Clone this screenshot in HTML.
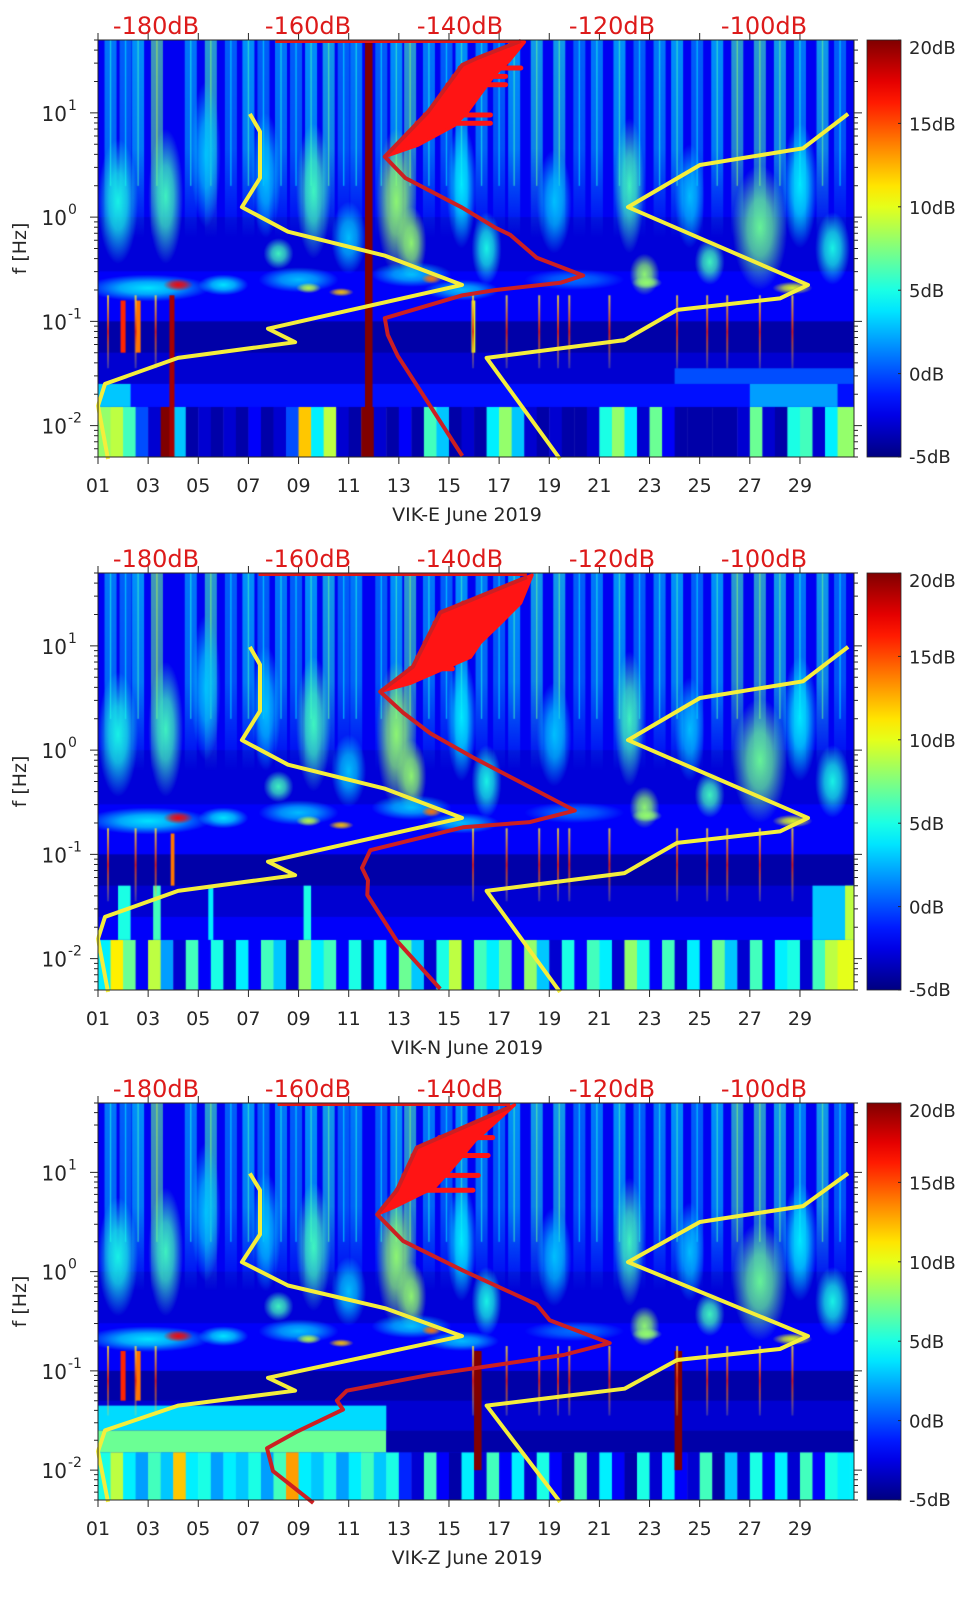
<!DOCTYPE html>
<html><head><meta charset="utf-8">
<style>
html,body{margin:0;padding:0;background:#fff}
body{width:962px;height:1599px;position:relative;overflow:hidden;font-family:"DejaVu Sans","Liberation Sans",sans-serif}
canvas{position:absolute}
svg{position:absolute;left:0;top:0}
</style></head>
<body>
<svg id="ov" width="962" height="1599" viewBox="0 0 962 1599"></svg>
<script>
// ---------- data ----------
const dayTickVals=[1,3,5,7,9,11,13,15,17,19,21,23,25,27,29];
const dayTickLabels=['01','03','05','07','09','11','13','15','17','19','21','23','25','27','29'];
const freqTickExp=[1,0,-1,-2];
const cbTickVals=[-5,0,5,10,15,20];
const cbTickLabels=['-5dB','0dB','5dB','10dB','15dB','20dB'];
const dbTickVals=[-180,-160,-140,-120,-100];
const dbTickLabels=['-180dB','-160dB','-140dB','-120dB','-100dB'];
const panelNames=['VIK-E June 2019','VIK-N June 2019','VIK-Z June 2019'];

// yellow noise model (day, log10 f)
const yellowLeftDay=[7.06,7.46,7.46,6.74,8.58,12.45,15.52,7.78,8.86,4.19,1.28,1.0,1.40];
const yellowLeftLogF=[0.99,0.82,0.375,0.096,-0.14,-0.37,-0.65,-1.07,-1.20,-1.35,-1.60,-1.81,-2.32];
const yellowRightDay=[30.92,29.12,25.01,22.14,29.32,28.2,24.1,22.0,16.5,19.43];
const yellowRightLogF=[0.99,0.66,0.50,0.096,-0.65,-0.78,-0.89,-1.18,-1.35,-2.32];

// red curves (dB, log10 f)
const red1Db=[-132,-137.6,-139.7,-144.2,-149.9,-147.2,-139.7,-135.4,-133.4,-129.9,-123.8,-126.8,-135.4,-139.7,-149.9,-149.5,-148.2,-144.2,-139.7];
const red1LogF=[1.69,1.53,1.46,1.01,0.58,0.375,0.09,-0.10,-0.17,-0.39,-0.56,-0.63,-0.70,-0.75,-0.97,-1.13,-1.33,-1.78,-2.29];
const red1OuterDb=[-131.5,-133.5,-135.4,-139.0,-140.7,-145.5,-149.9];
const red1OuterLogF=[1.68,1.50,1.37,1.01,0.88,0.69,0.58];
const red2Db=[-131.2,-142.6,-146.2,-150.5,-147.5,-143.9,-138.3,-132.5,-124.9,-130.8,-139.6,-151.8,-152.9,-152.1,-152.2,-148.3,-142.6];
const red2LogF=[1.66,1.32,0.80,0.56,0.36,0.16,-0.07,-0.29,-0.58,-0.69,-0.74,-0.96,-1.13,-1.25,-1.39,-1.83,-2.29];
const red2OuterDb=[-130.5,-132.0,-134.6,-137.3,-138.6,-146.5,-150.5];
const red2OuterLogF=[1.68,1.41,1.22,1.03,0.89,0.64,0.56];
const red3Db=[-133.4,-145.7,-148.3,-150.9,-147.5,-139.6,-129.9,-128.2,-120.3,-126.4,-135.1,-144.0,-154.9,-156.2,-155.4,-161.4,-165.4,-164.6,-159.3];
const red3LogF=[1.66,1.25,0.82,0.576,0.31,0.01,-0.33,-0.49,-0.72,-0.84,-0.94,-1.04,-1.20,-1.30,-1.39,-1.61,-1.78,-2.01,-2.33];
const red3OuterDb=[-132.8,-138.0,-140.6,-143.3,-148.6,-150.9];
const red3OuterLogF=[1.68,1.32,1.08,0.85,0.65,0.576];
const redSpikes1LogF=[1.43,1.35,1.27,0.98,0.90];
const redSpikes1Db=[-132,-134,-134,-136,-136];
const redSpikes2LogF=[1.41,1.22,1.03,0.89,0.78];
const redSpikes2Db=[-132.5,-135.1,-137.8,-139.1,-141];
const redSpikes3LogF=[1.35,1.17,0.97,0.82];
const redSpikes3Db=[-135.7,-136.3,-137.6,-138.3];
const redTopStartDb=[-164.3,-166.5,-164];

// spectrogram: background rows [lfTop, lfBot, dB]
const bgRowTop=[1.7,0.0,-0.52,-0.82,-1.0,-1.3,-1.6];
const bgRowBot=[0.0,-0.52,-0.82,-1.0,-1.3,-1.6,-1.82];
const bgRowDb=[-2.2,-2.8,-2.0,-2.0,-4,-3,-1.5];
// blobs
const blobDay=[1.8,3.7,5.3,7.7,9.6,11.0,12.9,13.5,15.5,16.5,19.2,22.2,24.6,25.4,22.8,27.4,29.0,30.3,3,9,13.5,20,6,15.5,4.2,9.4,10.7,14.3,28.7,22.9,8.2];
const blobLogF=[0.15,0.2,0.6,0.4,0.25,-0.2,0.15,-0.25,0.3,-0.3,0.15,0.3,0.2,-0.43,-0.55,-0.1,0.3,-0.3,-0.68,-0.6,-0.55,-0.6,-0.65,-0.7,-0.65,-0.68,-0.72,-0.59,-0.68,-0.63,-0.35];
const blobDb=[5,6,3,3,6,3,8,8,4,5,3,6,3,6,8,7,4,5,4,3,3,1,4,3,17,9,12,14,10,8,6];
const blobRxDays=[0.8,0.7,0.6,0.6,0.7,0.7,0.8,0.6,0.6,0.6,0.7,0.6,0.6,0.6,0.6,1.1,0.7,0.7,2.5,1.6,1.6,2.0,1.0,1.5,0.6,0.5,0.5,0.4,0.8,0.6,0.6];
const blobRyDec=[0.6,0.65,0.7,0.6,0.65,0.35,0.7,0.35,0.6,0.35,0.5,0.65,0.5,0.22,0.2,0.6,0.6,0.35,0.13,0.12,0.12,0.1,0.1,0.1,0.06,0.05,0.04,0.05,0.06,0.06,0.15];
// high-frequency streaks
const streakDay=[1.5,2.1,2.6,3.35,4.7,5.5,6.3,7.0,7.6,8.3,8.9,9.5,10.2,10.8,11.3,12.3,12.9,13.45,14.2,14.9,15.5,16.3,17.0,17.6,18.5,19.4,20.2,20.9,21.8,22.6,23.4,24.1,24.9,25.7,26.5,27.4,28.2,29.0,29.9,30.6];
const streakDb=[3,2,4,7,3,6,2,4,2,3,2,4,5,2,3,2,4,6,3,2,4,3,2,4,5,5,2,3,4,2,3,4,2,4,6,6,5,3,5,2];
// low-frequency blocks per panel [d0,d1,lfTop,lfBot,dB]
const blocks1D0=[1,1,24,27,11.65,3.85,1.9,2.5,15.9];
const blocks1D1=[31.2,2.3,31.2,30.5,11.95,4.05,2.1,2.7,16.05];
const blocks1Top=[-1.6,-1.6,-1.45,-1.6,1.7,-0.75,-0.8,-0.8,-0.8];
const blocks1Bot=[-1.82,-1.82,-1.6,-1.82,-2.31,-2.31,-1.3,-1.3,-1.3];
const blocks1Db=[-1.5,3,0,2,20,19,16,14,10];
const blocks2D0=[1,29.5,30.8,1.8,3.2,5.4,9.2,3.9];
const blocks2D1=[31.2,31.2,31.2,2.3,3.5,5.6,9.5,4.05];
const blocks2Top=[-1.6,-1.3,-1.3,-1.3,-1.3,-1.3,-1.3,-0.8];
const blocks2Bot=[-1.82,-1.82,-1.82,-1.82,-1.82,-1.82,-1.82,-1.3];
const blocks2Db=[-2,3,9,5,6,4,5,14];
const blocks3D0=[1,1,12.5,16.0,24.0,1.9,2.5];
const blocks3D1=[12.5,12.5,31.2,16.3,24.3,2.1,2.7];
const blocks3Top=[-1.35,-1.6,-1.6,-0.8,-0.8,-0.8,-0.8];
const blocks3Bot=[-1.6,-1.82,-1.82,-2.0,-2.0,-1.3,-1.3];
const blocks3Db=[3.5,7,-4,20,20,16,14];
// bottom band (half-day levels, dB)
const bottom1=[8,9,6,0,-3,20,3,-4,-3,-4,-3,-4,-2,-4,-3,0,12,4,9,-3,-4,20,-3,-4,-2,-4,6,3,-4,-3,-4,4,8,3,-3,-4,-3,-4,-4,-3,5,8,4,-3,7,-2,-4,-4,-4,-4,-4,-3,7,-3,-4,5,6,-3,4,8,8];
const bottom2=[4,11,7,-2,9,2,-3,6,-2,5,-3,4,-2,6,3,-3,8,4,6,-2,5,-3,4,-2,7,3,-3,5,9,-2,6,4,7,-2,8,3,-3,5,-2,6,4,-3,8,5,-2,6,-3,4,-2,7,3,-3,6,-2,4,5,-3,6,9,10,10];
const bottom3=[5,9,4,2,6,3,12,4,5,2,4,3,5,2,6,13,4,3,5,2,4,6,3,5,-1,-3,6,-2,-4,4,-3,6,-2,4,-3,5,-2,-4,6,-3,4,-2,-4,5,-3,4,-2,-3,6,-4,3,-3,5,-2,4,-3,6,-2,5,4,4];
// thin red spikes (low freq)
const spikeDay=[1.4,2.5,3.3,15.96,17.3,18.6,19.35,19.8,21.4,24.1,25.3,26.1,27.4,28.7];

// ---------- geometry ----------
const PANELS=[{top:40,h:417},{top:573,h:417},{top:1103,h:397}];
const X0=98,X1=854,DAYPX=25.07,LTOP=Math.log10(50),LBOT=Math.log10(0.005);
function xDay(d){return X0+(d-1)*DAYPX}
function yF(p,lf){return p.top+(LTOP-lf)/(LTOP-LBOT)*p.h}
function xDb(db){return 156+(db+180)*7.6}
function jet(v){const t=Math.max(0,Math.min(1,(v+5)/25));
 const c=x=>Math.round(255*Math.max(0,Math.min(1,1.5-Math.abs(4*t-x))));
 return [c(3),c(2),c(1)];}
function rgba(v,a){const c=jet(v);return 'rgba('+c[0]+','+c[1]+','+c[2]+','+a+')'}

const blocksD0=[blocks1D0,blocks2D0,blocks3D0],blocksD1=[blocks1D1,blocks2D1,blocks3D1],
blocksTop=[blocks1Top,blocks2Top,blocks3Top],blocksBot=[blocks1Bot,blocks2Bot,blocks3Bot],blocksDb=[blocks1Db,blocks2Db,blocks3Db];
const bottoms=[bottom1,bottom2,bottom3];

PANELS.forEach((p,pi)=>{
 const cv=document.createElement('canvas');
 
 
 cv.width=X1-X0;cv.height=p.h;cv.style.left=X0+'px';cv.style.top=p.top+'px';
 document.body.insertBefore(cv,document.getElementById('ov'));
 const g=cv.getContext('2d');
 const lx=d=>xDay(d)-X0, ly=lf=>yF(p,lf)-p.top;
 for(let i=0;i<bgRowDb.length;i++){g.fillStyle=rgba(bgRowDb[i],1);
  g.fillRect(0,ly(bgRowTop[i]),cv.width,ly(bgRowBot[i])-ly(bgRowTop[i])+1);}
 const bb=bottoms[pi];
 for(let i=0;i<bb.length;i++){g.fillStyle=rgba(bb[i],1);
  const x0=lx(1+i*0.5),x1=lx(1.5+i*0.5);
  g.fillRect(x0,ly(-1.82),x1-x0+0.5,cv.height-ly(-1.82));}
 // streaks
 for(let i=0;i<streakDay.length;i++){
  const x=lx(streakDay[i]);const gr=g.createLinearGradient(0,0,0,ly(-0.2));
  gr.addColorStop(0,rgba(streakDb[i],0.6));gr.addColorStop(0.55,rgba(streakDb[i],0.5));gr.addColorStop(1,rgba(streakDb[i],0));
  g.fillStyle=gr;g.fillRect(x-6,0,12,ly(-0.2));
  g.fillStyle=rgba(streakDb[i]+2,0.6);g.fillRect(x-0.7,0,1.4,ly(0.3));}
 // blobs
 for(let i=0;i<blobDay.length;i++){
  g.save();g.translate(lx(blobDay[i]),ly(blobLogF[i]));
  g.scale(blobRxDays[i]*DAYPX,blobRyDec[i]*p.h/4);
  const gr=g.createRadialGradient(0,0,0,0,0,1);
  gr.addColorStop(0,rgba(blobDb[i],0.95));gr.addColorStop(0.45,rgba(blobDb[i],0.7));gr.addColorStop(1,rgba(blobDb[i],0));
  g.fillStyle=gr;g.beginPath();g.arc(0,0,1,0,Math.PI*2);g.fill();g.restore();}
 const D0=blocksD0[pi],D1=blocksD1[pi],T=blocksTop[pi],B=blocksBot[pi],V=blocksDb[pi];
 for(let i=0;i<V.length;i++){g.fillStyle=rgba(V[i],1);
  g.fillRect(lx(D0[i]),ly(T[i]),lx(D1[i])-lx(D0[i]),ly(B[i])-ly(T[i]));}
 for(let i=0;i<spikeDay.length;i++){const x=lx(spikeDay[i]);
  const gr=g.createLinearGradient(0,ly(-0.75),0,ly(-1.45));
  gr.addColorStop(0,'rgba(255,230,60,0.8)');gr.addColorStop(0.5,'rgba(220,30,20,0.9)');gr.addColorStop(1,'rgba(255,230,60,0.2)');
  g.fillStyle=gr;g.fillRect(x-1,ly(-0.75),2,ly(-1.45)-ly(-0.75));}
});

// ---------- overlay ----------
const NS='http://www.w3.org/2000/svg';const ov=document.getElementById('ov');
function el(tag,attrs,parent){const e=document.createElementNS(NS,tag);for(const k in attrs)e.setAttribute(k,attrs[k]);(parent||ov).appendChild(e);return e}
const redDbs=[red1Db,red2Db,red3Db],redLfs=[red1LogF,red2LogF,red3LogF];
const redODbs=[red1OuterDb,red2OuterDb,red3OuterDb],redOLfs=[red1OuterLogF,red2OuterLogF,red3OuterLogF];
const spDb=[redSpikes1Db,redSpikes2Db,redSpikes3Db],spLf=[redSpikes1LogF,redSpikes2LogF,redSpikes3LogF];

PANELS.forEach((p,pi)=>{
 const G=el('g',{});
 
 
 const bot=p.top+p.h;
 [[yellowLeftDay,yellowLeftLogF],[yellowRightDay,yellowRightLogF]].forEach((c,ci)=>{
  const pts=c[0].map((d,i)=>xDay(d).toFixed(1)+','+yF(p,c[1][i]).toFixed(1)).join(' ');
  const pl=el('polyline',{points:pts,fill:'none',stroke:'#f4ee3c','stroke-width':4,'stroke-linejoin':'round'},G);
  
  
 });
 const db=redDbs[pi],lf=redLfs[pi],od=redODbs[pi],ol=redOLfs[pi];
 const minIdx=db.indexOf(Math.min(...db.slice(0,6)));
 let poly=od.map((d,i)=>xDb(d).toFixed(1)+','+yF(p,ol[i]).toFixed(1));
 for(let i=minIdx;i>=0;i--)poly.push(xDb(db[i]).toFixed(1)+','+yF(p,lf[i]).toFixed(1));
 const fz=el('polygon',{points:poly.join(' '),fill:'#ff1414',stroke:'#ff1414','stroke-width':3,'stroke-linejoin':'round'},G);
 
 
 for(let i=0;i<spDb[pi].length;i++){
  const y=yF(p,spLf[pi][i]);
  let xs=xDb(db[0]);
  for(let k=0;k<minIdx;k++){if(lf[k]>=spLf[pi][i]&&lf[k+1]<=spLf[pi][i]){const t=(lf[k]-spLf[pi][i])/(lf[k]-lf[k+1]);xs=xDb(db[k]+(db[k+1]-db[k])*t);}}
  const s=el('line',{x1:xs,y1:y,x2:xDb(spDb[pi][i]),y2:y,stroke:'#ff1414','stroke-width':5,'stroke-linecap':'round'},G);
  
  
 }
 const rl=el('polyline',{points:db.map((d,i)=>xDb(d).toFixed(1)+','+yF(p,lf[i]).toFixed(1)).join(' '),fill:'none',stroke:'#cc1f22','stroke-width':4,'stroke-linejoin':'round'},G);
 
 
 const tl=el('line',{x1:xDb(redTopStartDb[pi]),y1:p.top+1.5,x2:xDb(db[0]),y2:p.top+1.5,stroke:'#e01818','stroke-width':3},G);
 
 
 const fr=el('rect',{x:X0,y:p.top,width:X1-X0,height:p.h,fill:'none',stroke:'#262626','stroke-width':1},G);
 
 
 dayTickVals.forEach((d,i)=>{const x=xDay(d);
  el('line',{x1:x,y1:bot,x2:x,y2:bot+7,stroke:'#262626'},G);
  el('line',{x1:x,y1:p.top,x2:x,y2:p.top-7,stroke:'#262626'},G);
  const t=el('text',{x:x,y:bot+35,'text-anchor':'middle','font-size':19,fill:'#262626'},G);
  t.textContent=dayTickLabels[i];
  
  });
 for(let e=-3;e<=1;e++){for(let m=1;m<10;m++){const lfv=e+Math.log10(m);
  if(lfv>LTOP||lfv<LBOT)continue;const y=yF(p,lfv);const L=m===1?8:4;
  el('line',{x1:X0,y1:y,x2:X0-L,y2:y,stroke:'#262626'},G);
  el('line',{x1:X1,y1:y,x2:X1+L,y2:y,stroke:'#262626'},G);}}
 freqTickExp.forEach(e=>{const y=yF(p,e);
  const t=el('text',{x:67,y:y+8,'text-anchor':'end','font-size':20,fill:'#262626'},G);
  t.textContent='10';
  
  
  const s=el('text',{x:68,y:y-3,'text-anchor':'start','font-size':14,fill:'#262626'},G);
  s.textContent=String(e);
  
  });
 const yl=el('text',{x:0,y:0,transform:'translate(26,'+(p.top+p.h/2)+') rotate(-90)','text-anchor':'middle','font-size':19,fill:'#262626'},G);
 yl.textContent='f [Hz]';
 
 
 const xl=el('text',{x:(X0+X1)/2-9,y:bot+64,'text-anchor':'middle','font-size':19,fill:'#262626'},G);
 xl.textContent=panelNames[pi];
 
 
 dbTickVals.forEach((v,i)=>{const t=el('text',{x:xDb(v),y:p.top-6,'text-anchor':'middle','font-size':24,fill:'#dd1a1a'},G);
  t.textContent=dbTickLabels[i];
  
  });
 const gid='cb'+pi;const defs=el('defs',{},G);
 const lg=el('linearGradient',{id:gid,x1:0,y1:1,x2:0,y2:0},defs);
 for(let k=0;k<=20;k++){const v=-5+25*k/20;el('stop',{offset:k/20,'stop-color':rgba(v,1)},lg);}
 const cb=el('rect',{x:867,y:p.top,width:34,height:p.h,fill:'url(#'+gid+')',stroke:'#262626','stroke-width':0.8},G);
 
 
 cbTickVals.forEach((v,i)=>{const y=p.top+p.h*(20-v)/25;
  el('line',{x1:898,y1:y,x2:901,y2:y,stroke:'#262626'},G);
  const t=el('text',{x:909,y:Math.min(Math.max(y+7,p.top+14),p.top+p.h+6),'font-size':18,fill:'#262626'},G);
  t.textContent=cbTickLabels[i];
  
  });
});
</script>
</body></html>
